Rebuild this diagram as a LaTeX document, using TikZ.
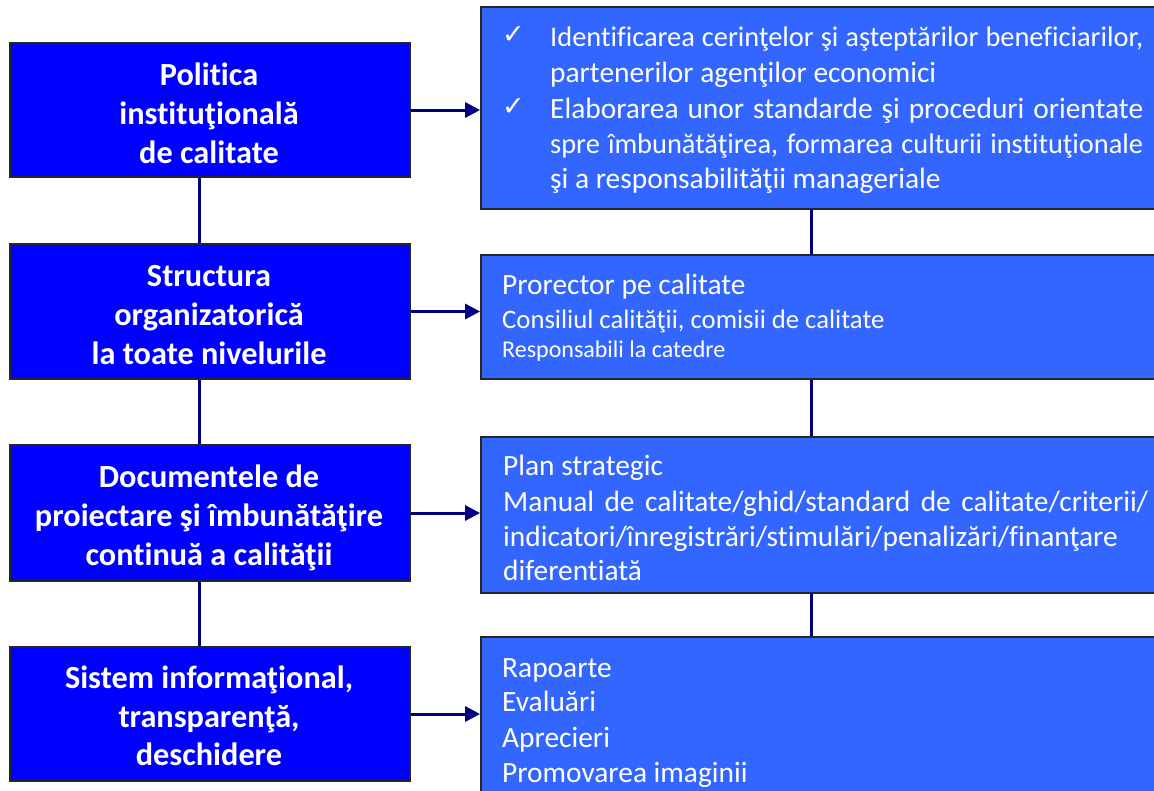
\documentclass[tikz,border=0pt]{standalone}
\usepackage{fontspec}
\setmainfont{Carlito}[Ligatures={NoCommon}]
\newfontfamily\symfont{DejaVu Sans}
\usetikzlibrary{arrows.meta}
\definecolor{lbox}{RGB}{0,0,255}
\definecolor{rbox}{RGB}{51,102,255}
\definecolor{navy}{RGB}{0,0,128}
\newcommand\jline[2]{\makebox[#1][s]{#2}}
\begin{document}
\begin{tikzpicture}[x=1pt,y=-1pt,
  lbx/.style={draw=black!85, line width=1.8pt, fill=lbox, minimum width=400pt, inner sep=0pt},
  rbx/.style={draw=black!85, line width=1.8pt, fill=rbox, minimum width=689pt, inner sep=0pt},
  ltext/.style={anchor=base, text=white, inner sep=0pt, font=\bfseries\fontsize{32.3}{38}\selectfont},
  rtext/.style={anchor=base west, text=white, inner sep=0pt, font=\fontsize{29.4}{34}\selectfont},
  tight/.style={font=\fontsize{28.4}{34}\selectfont},
  chk/.style={anchor=base west, text=white, inner sep=0pt, font=\symfont\fontsize{27}{30}\selectfont},
  link/.style={draw=navy, line width=3pt},
  arr/.style={link, -{Triangle[length=15pt,width=15pt]}}]
\clip (0,0) rectangle (1154,790);
\useasboundingbox (0,0) rectangle (1154,790);
\fill[white] (0,0) rectangle (1154,790);

% left column boxes
\node[lbx, minimum height=134pt] (l1) at (210,110) {};
\node[lbx, minimum height=135pt] (l2) at (210,311.5) {};
\node[lbx, minimum height=136pt] (l3) at (210,513) {};
\node[lbx, minimum height=134pt] (l4) at (210,714) {};

% right column boxes
\node[rbx, minimum height=202pt] (r1) at (825.5,108) {};
\node[rbx, minimum height=124pt] (r2) at (825.5,317) {};
\node[rbx, minimum height=156pt] (r3) at (825.5,515) {};
\node[rbx, minimum height=163pt] (r4) at (825.5,718.5) {};

% left vertical links
\draw[link] ([xshift=-11pt]l1.south) -- ([xshift=-11pt]l2.north);
\draw[link] ([xshift=-11pt]l2.south) -- ([xshift=-11pt]l3.north);
\draw[link] ([xshift=-11pt]l3.south) -- ([xshift=-11pt]l4.north);

% right vertical links
\draw[link] ([xshift=-14.5pt]r1.south) -- ([xshift=-14.5pt]r2.north);
\draw[link] ([xshift=-14.5pt]r2.south) -- ([xshift=-14.5pt]r3.north);
\draw[link] ([xshift=-14.5pt]r3.south) -- ([xshift=-14.5pt]r4.north);

% arrows
\draw[arr] (l1.east) -- (r1.west |- l1.east);
\draw[arr] (l2.east) -- (r2.west |- l2.east);
\draw[arr] (l3.east) -- (r3.west |- l3.east);
\draw[arr] (l4.east) -- (r4.west |- l4.east);

% left texts
\node[ltext] (t11) at (209,85) {Politica};
\node[ltext] (t12) at (209,124) {instituţională};
\node[ltext] (t13) at (209,163) {de calitate};
\node[ltext] (t21) at (209,286) {Structura};
\node[ltext] (t22) at (209,325) {organizatorică};
\node[ltext] (t23) at (209,364) {la toate nivelurile};
\node[ltext] (t31) at (209,487) {Documentele de};
\node[ltext] (t32) at (209,526) {proiectare şi îmbunătăţire};
\node[ltext] (t33) at (209,565) {continuă a calităţii};
\node[ltext] (t41) at (209,688) {Sistem informaţional,};
\node[ltext] (t42) at (209,727) {transparenţă,};
\node[ltext] (t43) at (209,765) {deschidere};

% right box 1
\node[chk] (c1) at (502,43) {✓};
\node[chk] (c2) at (502,115) {✓};
\node[rtext, tight] (u11) at (550,46) {\jline{593pt}{Identificarea cerinţelor şi aşteptărilor beneficiarilor,}};
\node[rtext] (u12) at (550,82) {partenerilor agenţilor economici};
\node[rtext] (u13) at (550,118) {\jline{593pt}{Elaborarea unor standarde şi proceduri orientate}};
\node[rtext, tight] (u14) at (550,153) {\jline{593pt}{spre îmbunătăţirea, formarea culturii instituţionale}};
\node[rtext] (u15) at (550,188) {şi a responsabilităţii manageriale};

% right box 2
\node[rtext] (u21) at (502,294) {Prorector pe calitate};
\node[rtext, font=\fontsize{26.7}{30}\selectfont] (u22) at (502,328) {Consiliul calităţii, comisii de calitate};
\node[rtext, font=\fontsize{24}{28}\selectfont] (u23) at (502,357) {Responsabili la catedre};

% right box 3
\node[rtext] (u31) at (503,475) {Plan strategic};
\node[rtext] (u32) at (503,511) {\jline{645pt}{Manual de calitate/ghid/standard de calitate/criterii/}};
\node[rtext] (u33) at (503,546) {indicatori/înregistrări/stimulări/penalizări/finanţare};
\node[rtext] (u34) at (503,580) {diferentiată};

% right box 4
\node[rtext] (u41) at (502,677) {Rapoarte};
\node[rtext] (u42) at (502,711) {Evaluări};
\node[rtext] (u43) at (502,747) {Aprecieri};
\node[rtext] (u44) at (502,782) {Promovarea imaginii};
\end{tikzpicture}
\end{document}
